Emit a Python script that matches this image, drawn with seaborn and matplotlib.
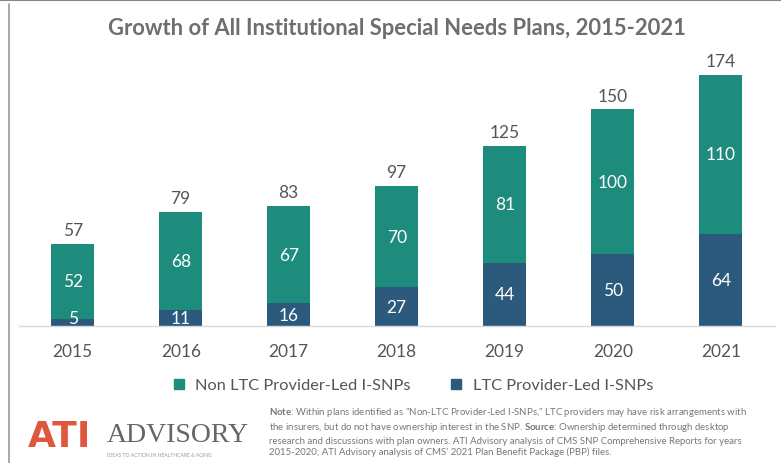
import matplotlib
matplotlib.use("Agg")
import matplotlib.pyplot as plt
import seaborn as sns
import pandas as pd
from matplotlib.lines import Line2D

years = ["2015", "2016", "2017", "2018", "2019", "2020", "2021"]
non_ltc = [52, 68, 67, 70, 81, 100, 110]
ltc = [5, 11, 16, 27, 44, 50, 64]
totals = [a + b for a, b in zip(non_ltc, ltc)]

TEAL = "#1d8c7d"
DARK = "#2c5a7c"
GRAY = "#6e6e6e"

sns.set_theme(style="white")
plt.rcParams["font.family"] = ["Lato", "DejaVu Sans"]
plt.rcParams["mathtext.fontset"] = "custom"
plt.rcParams["mathtext.bf"] = "Lato:bold"
plt.rcParams["mathtext.rm"] = "Lato"

df = pd.DataFrame({"year": years, "non_ltc": non_ltc, "ltc": ltc, "total": totals})

fig = plt.figure(figsize=(7.81, 4.64), dpi=100)
ax = fig.add_axes([0.024, 0.295, 0.968, 0.576])

sns.barplot(data=df, x="year", y="total", color=TEAL, width=0.40, saturation=1,
            linewidth=0, edgecolor="none", ax=ax)
sns.barplot(data=df, x="year", y="ltc", color=DARK, width=0.40, saturation=1,
            linewidth=0, edgecolor="none", ax=ax)

ax.set_xlim(-0.5, 6.5)
ax.set_ylim(0, 185)
ax.set_xlabel("")
ax.set_ylabel("")
ax.set_yticks([])
for s in ["top", "right", "left"]:
    ax.spines[s].set_visible(False)
ax.spines["bottom"].set_color("#d9d9d9")
ax.spines["bottom"].set_linewidth(1.0)
ax.tick_params(axis="x", length=0, pad=12, labelsize=12.5, labelcolor="#555555")

for i, (n, l, t) in enumerate(zip(non_ltc, ltc, totals)):
    ax.text(i, l + n / 2, str(n), ha="center", va="center", color="white", fontsize=12.5)
    ax.text(i, max(l / 2, 5.5), str(l), ha="center", va="center", color="white", fontsize=12.5)
    ax.text(i, t + 4, str(t), ha="center", va="bottom", color="#555555", fontsize=12.5)

fig.text(0.508, 0.938, "Growth of All Institutional Special Needs Plans, 2015-2021",
         ha="center", va="center", fontsize=15.8, fontweight="bold", color=GRAY)

handles = [Line2D([0], [0], marker="s", linestyle="", markersize=7, color=TEAL),
           Line2D([0], [0], marker="s", linestyle="", markersize=7, color=DARK)]
fig.legend(handles, ["Non LTC Provider-Led I-SNPs", "LTC Provider-Led I-SNPs"],
           loc="center", bbox_to_anchor=(0.522, 0.168), ncol=2, frameon=False,
           fontsize=11.8, labelcolor="#555555", handletextpad=0.0, columnspacing=1.8)

# border lines
fig.add_artist(Line2D([0.0, 1.0], [0.997, 0.997], color="#888888", lw=1.5))
fig.add_artist(Line2D([0.011, 0.011], [0.0, 0.99], color="#999999", lw=1.2))

# logo
fig.text(0.036, 0.058, "ATI", fontsize=26, fontweight="bold", color="#e0573f",
         family=["DejaVu Sans"], va="center", ha="left")
fig.text(0.137, 0.062, "ADVISORY", fontsize=20, color="#666666",
         family=["Liberation Serif"], va="center", ha="left")
fig.text(0.137, 0.018, "IDEAS TO ACTION IN HEALTHCARE & AGING", fontsize=3.6,
         color="#999999", va="center", ha="left")

note = ("$\\bf{Note}$: Within plans identified as \"Non-LTC Provider-Led I-SNPs,\" LTC providers may have risk arrangements with\n"
        "the insurers, but do not have ownership interest in the SNP. $\\bf{Source}$: Ownership determined through desktop\n"
        "research and discussions with plan owners. ATI Advisory analysis of CMS SNP Comprehensive Reports for years\n"
        "2015-2020; ATI Advisory analysis of CMS' 2021 Plan Benefit Package (PBP) files.")
fig.text(0.345, 0.070, note, fontsize=6.9, color="#777777", va="center", ha="left", linespacing=1.3)

fig.savefig("out.png", dpi=100)
